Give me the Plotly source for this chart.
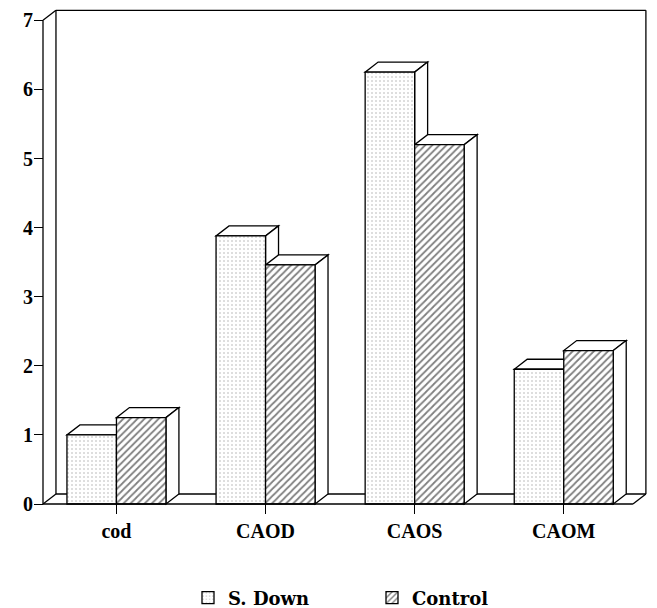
import plotly.graph_objects as go

# ---- data ----
categories = ["cod", "CAOD", "CAOS", "CAOM"]
s_down = [1.0, 3.88, 6.25, 1.95]
control = [1.25, 3.46, 5.2, 2.22]
y_ticks = [0, 1, 2, 3, 4, 5, 6, 7]

# ---- geometry of the pseudo-3D box (axis units) ----
BAR_W = 0.332      # width of one bar
DX, DY = 0.087, 0.145   # oblique depth offset
X_LEFT, X_RIGHT = -0.4926, 3.464
Y_MAX = 7

FONT = "Liberation Serif"
LINE = dict(color="black", width=1.3)

xpos = list(range(len(categories)))

fig = go.Figure()
fig.add_bar(
    name="S. Down", x=xpos, y=s_down, width=BAR_W, offset=-BAR_W,
    marker=dict(color="white", line=LINE,
                pattern=dict(shape=".", size=4, solidity=0.2,
                             fgcolor="#a8a8a8", bgcolor="white")),
)
fig.add_bar(
    name="Control", x=xpos, y=control, width=BAR_W, offset=0,
    marker=dict(color="white", line=LINE,
                pattern=dict(shape="/", size=5, solidity=0.35,
                             fgcolor="black", bgcolor="white")),
)

shapes = []


def seg(x0, y0, x1, y1, layer="below"):
    shapes.append(dict(type="line", xref="x", yref="y", x0=x0, y0=y0,
                       x1=x1, y1=y1, line=LINE, layer=layer))


def poly(pts):
    d = "M " + " L ".join(f"{x},{y}" for x, y in pts) + " Z"
    shapes.append(dict(type="path", xref="x", yref="y", path=d,
                       fillcolor="white", line=LINE, layer="below"))


# back wall and floor
bx0, bx1 = X_LEFT + DX, X_RIGHT + DX
seg(bx0, DY, bx1, DY)
seg(bx0, DY, bx0, Y_MAX + DY)
seg(bx0, Y_MAX + DY, bx1, Y_MAX + DY)
seg(bx1, Y_MAX + DY, bx1, DY)
seg(X_LEFT, 0, bx0, DY)
seg(X_LEFT, Y_MAX, bx0, Y_MAX + DY)
seg(X_RIGHT, 0, bx1, DY)

# top and side faces of every bar
for i in xpos:
    for x0, v in ((i - BAR_W, s_down[i]), (i, control[i])):
        x1 = x0 + BAR_W
        poly([(x0, v), (x1, v), (x1 + DX, v + DY), (x0 + DX, v + DY)])
        poly([(x1, 0), (x1 + DX, DY), (x1 + DX, v + DY), (x1, v)])

# front axis and front floor edge
seg(X_LEFT, 0, X_LEFT, Y_MAX, layer="above")
seg(X_LEFT, 0, X_RIGHT, 0, layer="above")

# plot area (pixels): left 30, right 655, top 3, bottom 520
L, R, T, B = 30, 2, 3, 88
W, H = 657, 608
plot_w, plot_h = W - L - R, H - T - B
px_per_x = 149.1
px_per_y = 69.1
x_at_left = X_LEFT - 13 / px_per_x
x_range = [x_at_left, x_at_left + plot_w / px_per_x]
y_range = [-16 / px_per_y, -16 / px_per_y + plot_h / px_per_y]

tick_font = dict(family=FONT, size=20, color="black", weight="bold")

fig.update_layout(
    width=W, height=H,
    margin=dict(l=L, r=R, t=T, b=B, autoexpand=False),
    plot_bgcolor="white", paper_bgcolor="white",
    shapes=shapes,
    showlegend=True,
    legend=dict(orientation="h", x=(372 - L) / plot_w, xanchor="center",
                y=(520 - 598) / plot_h, yanchor="middle",
                font=dict(family="DejaVu Serif", size=18, color="black",
                          weight="bold"),
                entrywidth=139),
    xaxis=dict(range=x_range, tickvals=xpos, ticktext=categories,
               showgrid=False, zeroline=False, showline=False,
               ticks="outside", ticklen=9, tickwidth=1.3, tickcolor="black",
               anchor="free", position=16 / plot_h,
               tickfont=tick_font, ticklabelstandoff=0),
    yaxis=dict(range=y_range, tickvals=y_ticks,
               showgrid=False, zeroline=False, showline=False,
               ticks="outside", ticklen=9, tickwidth=1.3, tickcolor="black",
               anchor="free", position=13 / plot_w,
               tickfont=tick_font, ticklabelstandoff=-3),
)

fig.write_html("out.html")
